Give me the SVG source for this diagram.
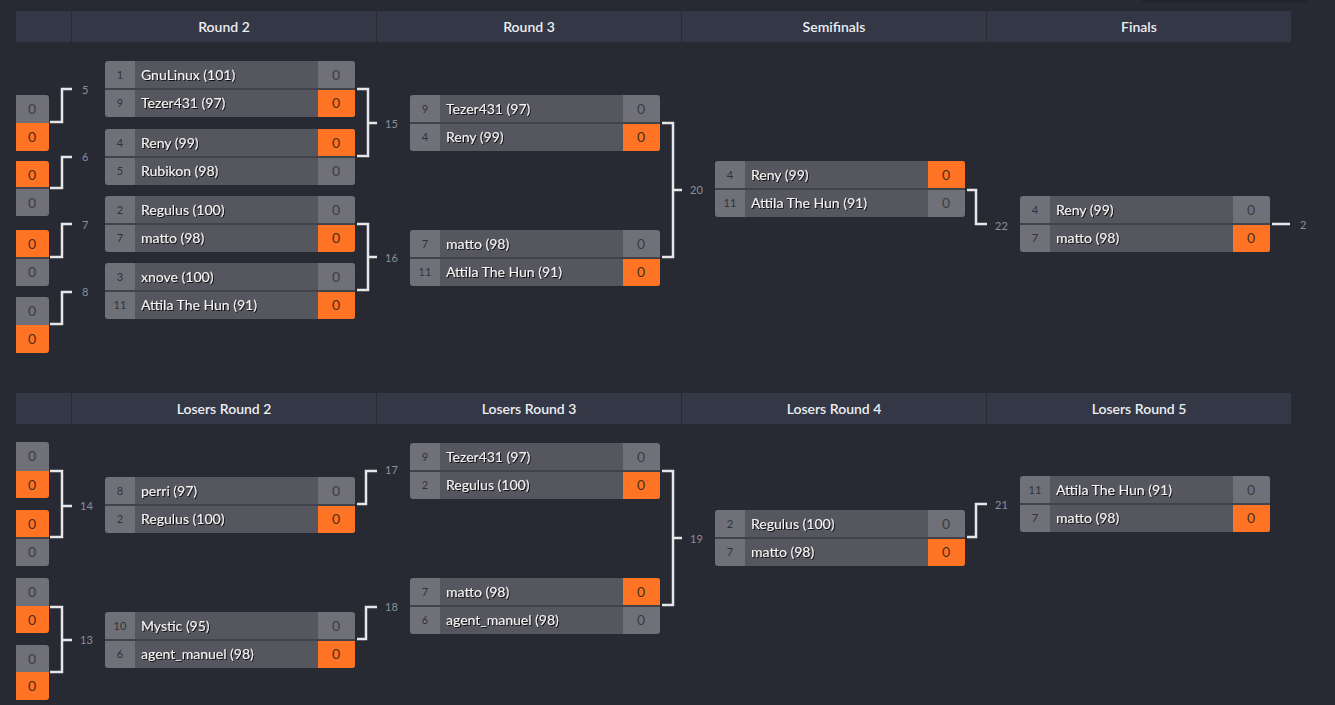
<svg xmlns="http://www.w3.org/2000/svg" width="1335" height="705" viewBox="0 0 1335 705">
<defs>
<style>
.bg{fill:#272a33}
.hd{fill:#343745}
.ht{font-family:Lato,"Noto Sans",sans-serif;font-size:14px;font-weight:600;fill:#eceef2;text-anchor:middle}
.box{fill:#707178}
.nm{fill:#56575e}
.or{fill:#ff7324}
.dv{stroke:#42434a;stroke-width:2}
.sd{font-family:Lato,"Noto Sans",sans-serif;font-size:11px;fill:#2f3139;text-anchor:middle}
.tn{font-family:Lato,"Noto Sans",sans-serif;font-size:14px;fill:#f3f3f3;filter:url(#sh)}
.sc{font-family:Lato,"Noto Sans",sans-serif;font-size:14px;fill:#3a3c44;text-anchor:middle}
.so{font-family:Lato,"Noto Sans",sans-serif;font-size:14px;fill:#4a2e1a;text-anchor:middle}
.cn{fill:none;stroke:#e6e6e8;stroke-width:2.5}
.lb{font-family:Lato,"Noto Sans",sans-serif;font-size:11px;fill:#8c8f99}
</style>
<filter id="sh" x="-10%" y="-30%" width="130%" height="160%">
<feDropShadow dx="1" dy="1" stdDeviation="0.6" flood-color="#000" flood-opacity="0.8"/>
</filter>
</defs>
<rect class="bg" x="0" y="0" width="1335" height="705"/>
<rect x="1142" y="0" width="166" height="3" fill="#22252c"/>

<g id="headers-winners">
<rect class="hd" x="16" y="11" width="55" height="31"/>
<rect class="hd" x="72" y="11" width="304" height="31"/>
<rect class="hd" x="377" y="11" width="304" height="31"/>
<rect class="hd" x="682" y="11" width="304" height="31"/>
<rect class="hd" x="987" y="11" width="304" height="31"/>
<text class="ht" x="224" y="32">Round 2</text>
<text class="ht" x="529" y="32">Round 3</text>
<text class="ht" x="834" y="32">Semifinals</text>
<text class="ht" x="1139" y="32">Finals</text>
</g>
<g id="headers-losers">
<rect class="hd" x="16" y="393" width="55" height="31"/>
<rect class="hd" x="72" y="393" width="304" height="31"/>
<rect class="hd" x="377" y="393" width="304" height="31"/>
<rect class="hd" x="682" y="393" width="304" height="31"/>
<rect class="hd" x="987" y="393" width="304" height="31"/>
<text class="ht" x="224" y="414">Losers Round 2</text>
<text class="ht" x="529" y="414">Losers Round 3</text>
<text class="ht" x="834" y="414">Losers Round 4</text>
<text class="ht" x="1139" y="414">Losers Round 5</text>
</g>

<g id="stubs">
<g id="stub-5">
<path class="box" d="M16 95 H46 Q49 95 49 98 V123 H16 Z"/>
<path class="or" d="M16 123 H49 V148 Q49 151 46 151 H16 Z"/>
<text class="sc" x="32" y="114">0</text><text class="so" x="32" y="142">0</text>
</g>
<g id="stub-6">
<path class="or" d="M16 161 H46 Q49 161 49 164 V188 H16 Z"/>
<path class="box" d="M16 188 H49 V213 Q49 216 46 216 H16 Z"/>
<line class="dv" x1="16" y1="188" x2="49" y2="188"/>
<text class="so" x="32" y="180">0</text><text class="sc" x="32" y="208">0</text>
</g>
<g id="stub-7">
<path class="or" d="M16 230 H46 Q49 230 49 233 V258 H16 Z"/>
<path class="box" d="M16 258 H49 V283 Q49 286 46 286 H16 Z"/>
<line class="dv" x1="16" y1="258" x2="49" y2="258"/>
<text class="so" x="32" y="249">0</text><text class="sc" x="32" y="277">0</text>
</g>
<g id="stub-8">
<path class="box" d="M16 297 H46 Q49 297 49 300 V325 H16 Z"/>
<path class="or" d="M16 325 H49 V350 Q49 353 46 353 H16 Z"/>
<text class="sc" x="32" y="316">0</text><text class="so" x="32" y="344">0</text>
</g>
<g id="stub-l1">
<path class="box" d="M16 442 H46 Q49 442 49 445 V471 H16 Z"/>
<path class="or" d="M16 471 H49 V495 Q49 498 46 498 H16 Z"/>
<text class="sc" x="32" y="461">0</text><text class="so" x="32" y="490">0</text>
</g>
<g id="stub-l2">
<path class="or" d="M16 510 H46 Q49 510 49 513 V538 H16 Z"/>
<path class="box" d="M16 538 H49 V563 Q49 566 46 566 H16 Z"/>
<line class="dv" x1="16" y1="538" x2="49" y2="538"/>
<text class="so" x="32" y="529">0</text><text class="sc" x="32" y="557">0</text>
</g>
<g id="stub-l3">
<path class="box" d="M16 578 H46 Q49 578 49 581 V606 H16 Z"/>
<path class="or" d="M16 606 H49 V630 Q49 633 46 633 H16 Z"/>
<text class="sc" x="32" y="597">0</text><text class="so" x="32" y="625">0</text>
</g>
<g id="stub-l4">
<path class="box" d="M16 645 H46 Q49 645 49 648 V672 H16 Z"/>
<path class="or" d="M16 672 H49 V697 Q49 700 46 700 H16 Z"/>
<text class="sc" x="32" y="664">0</text><text class="so" x="32" y="691">0</text>
</g>
</g>

<g id="connectors">
<path class="cn" d="M50 122 H62 V89 H72"/>
<path class="cn" d="M72 157 H62 V188 H50"/>
<path class="cn" d="M72 224 H62 V257 H50"/>
<path class="cn" d="M72 292 H62 V324 H50"/>
<path class="cn" d="M357 89 H368 V156 H357 M368 123 H377"/>
<path class="cn" d="M357 224 H368 V290 H357 M368 257 H377"/>
<path class="cn" d="M662 123 H673 V257 H662 M673 190 H682"/>
<path class="cn" d="M967 190 H976 V224 H987"/>
<path class="cn" d="M1272 224 H1290"/>
<path class="cn" d="M50 471 H62 V537 H50 M62 506 H72"/>
<path class="cn" d="M50 607 H62 V672 H50 M62 640 H72"/>
<path class="cn" d="M357 504 H366 V471 H377"/>
<path class="cn" d="M357 639 H366 V607 H377"/>
<path class="cn" d="M662 471 H673 V605 H662 M673 538 H682"/>
<path class="cn" d="M967 537 H976 V504 H987"/>
<text class="lb" x="82" y="94">5</text>
<text class="lb" x="82" y="161">6</text>
<text class="lb" x="82" y="229">7</text>
<text class="lb" x="82" y="296">8</text>
<text class="lb" x="385" y="128">15</text>
<text class="lb" x="385" y="262">16</text>
<text class="lb" x="690" y="194">20</text>
<text class="lb" x="995" y="230">22</text>
<text class="lb" x="1300" y="229">2</text>
<text class="lb" x="80" y="510">14</text>
<text class="lb" x="80" y="644">13</text>
<text class="lb" x="385" y="474">17</text>
<text class="lb" x="385" y="611">18</text>
<text class="lb" x="690" y="543">19</text>
<text class="lb" x="995" y="509">21</text>
</g>

<g id="match-1">
<rect class="box" x="105" y="61" width="250" height="56" rx="3"/>
<rect class="nm" x="135" y="61" width="183" height="56"/>
<path class="or" d="M318 89 H355 V114 Q355 117 352 117 H318 Z"/>
<line class="dv" x1="105" y1="89" x2="355" y2="89"/>
<text class="sd" x="120" y="79">1</text><text class="tn" x="141" y="80">GnuLinux (101)</text><text class="sc" x="336" y="80">0</text>
<text class="sd" x="120" y="107">9</text><text class="tn" x="141" y="108">Tezer431 (97)</text><text class="so" x="336" y="108">0</text>
</g>
<g id="match-2">
<rect class="box" x="105" y="129" width="250" height="56" rx="3"/>
<rect class="nm" x="135" y="129" width="183" height="56"/>
<path class="or" d="M318 129 H352 Q355 129 355 132 V157 H318 Z"/>
<line class="dv" x1="105" y1="157" x2="355" y2="157"/>
<text class="sd" x="120" y="147">4</text><text class="tn" x="141" y="148">Reny (99)</text><text class="so" x="336" y="148">0</text>
<text class="sd" x="120" y="175">5</text><text class="tn" x="141" y="176">Rubikon (98)</text><text class="sc" x="336" y="176">0</text>
</g>
<g id="match-3">
<rect class="box" x="105" y="196" width="250" height="56" rx="3"/>
<rect class="nm" x="135" y="196" width="183" height="56"/>
<path class="or" d="M318 224 H355 V249 Q355 252 352 252 H318 Z"/>
<line class="dv" x1="105" y1="224" x2="355" y2="224"/>
<text class="sd" x="120" y="214">2</text><text class="tn" x="141" y="215">Regulus (100)</text><text class="sc" x="336" y="215">0</text>
<text class="sd" x="120" y="242">7</text><text class="tn" x="141" y="243">matto (98)</text><text class="so" x="336" y="243">0</text>
</g>
<g id="match-4">
<rect class="box" x="105" y="263" width="250" height="56" rx="3"/>
<rect class="nm" x="135" y="263" width="183" height="56"/>
<path class="or" d="M318 291 H355 V316 Q355 319 352 319 H318 Z"/>
<line class="dv" x1="105" y1="291" x2="355" y2="291"/>
<text class="sd" x="120" y="281">3</text><text class="tn" x="141" y="282">xnove (100)</text><text class="sc" x="336" y="282">0</text>
<text class="sd" x="120" y="309">11</text><text class="tn" x="141" y="310">Attila The Hun (91)</text><text class="so" x="336" y="310">0</text>
</g>
<g id="match-15">
<rect class="box" x="410" y="95" width="250" height="56" rx="3"/>
<rect class="nm" x="440" y="95" width="183" height="56"/>
<path class="or" d="M623 123 H660 V148 Q660 151 657 151 H623 Z"/>
<line class="dv" x1="410" y1="123" x2="660" y2="123"/>
<text class="sd" x="425" y="113">9</text><text class="tn" x="446" y="114">Tezer431 (97)</text><text class="sc" x="641" y="114">0</text>
<text class="sd" x="425" y="141">4</text><text class="tn" x="446" y="142">Reny (99)</text><text class="so" x="641" y="142">0</text>
</g>
<g id="match-16">
<rect class="box" x="410" y="230" width="250" height="56" rx="3"/>
<rect class="nm" x="440" y="230" width="183" height="56"/>
<path class="or" d="M623 258 H660 V283 Q660 286 657 286 H623 Z"/>
<line class="dv" x1="410" y1="258" x2="660" y2="258"/>
<text class="sd" x="425" y="248">7</text><text class="tn" x="446" y="249">matto (98)</text><text class="sc" x="641" y="249">0</text>
<text class="sd" x="425" y="276">11</text><text class="tn" x="446" y="277">Attila The Hun (91)</text><text class="so" x="641" y="277">0</text>
</g>
<g id="match-20">
<rect class="box" x="715" y="161" width="250" height="56" rx="3"/>
<rect class="nm" x="745" y="161" width="183" height="56"/>
<path class="or" d="M928 161 H962 Q965 161 965 164 V189 H928 Z"/>
<line class="dv" x1="715" y1="189" x2="965" y2="189"/>
<text class="sd" x="730" y="179">4</text><text class="tn" x="751" y="180">Reny (99)</text><text class="so" x="946" y="180">0</text>
<text class="sd" x="730" y="207">11</text><text class="tn" x="751" y="208">Attila The Hun (91)</text><text class="sc" x="946" y="208">0</text>
</g>
<g id="match-22">
<rect class="box" x="1020" y="196" width="250" height="56" rx="3"/>
<rect class="nm" x="1050" y="196" width="183" height="56"/>
<path class="or" d="M1233 224 H1270 V249 Q1270 252 1267 252 H1233 Z"/>
<line class="dv" x1="1020" y1="224" x2="1270" y2="224"/>
<text class="sd" x="1035" y="214">4</text><text class="tn" x="1056" y="215">Reny (99)</text><text class="sc" x="1251" y="215">0</text>
<text class="sd" x="1035" y="242">7</text><text class="tn" x="1056" y="243">matto (98)</text><text class="so" x="1251" y="243">0</text>
</g>

<g id="match-14">
<rect class="box" x="105" y="477" width="250" height="56" rx="3"/>
<rect class="nm" x="135" y="477" width="183" height="56"/>
<path class="or" d="M318 505 H355 V530 Q355 533 352 533 H318 Z"/>
<line class="dv" x1="105" y1="505" x2="355" y2="505"/>
<text class="sd" x="120" y="495">8</text><text class="tn" x="141" y="496">perri (97)</text><text class="sc" x="336" y="496">0</text>
<text class="sd" x="120" y="523">2</text><text class="tn" x="141" y="524">Regulus (100)</text><text class="so" x="336" y="524">0</text>
</g>
<g id="match-13">
<rect class="box" x="105" y="612" width="250" height="56" rx="3"/>
<rect class="nm" x="135" y="612" width="183" height="56"/>
<path class="or" d="M318 640 H355 V665 Q355 668 352 668 H318 Z"/>
<line class="dv" x1="105" y1="640" x2="355" y2="640"/>
<text class="sd" x="120" y="630">10</text><text class="tn" x="141" y="631">Mystic (95)</text><text class="sc" x="336" y="631">0</text>
<text class="sd" x="120" y="658">6</text><text class="tn" x="141" y="659">agent_manuel (98)</text><text class="so" x="336" y="659">0</text>
</g>
<g id="match-17">
<rect class="box" x="410" y="443" width="250" height="56" rx="3"/>
<rect class="nm" x="440" y="443" width="183" height="56"/>
<path class="or" d="M623 471 H660 V496 Q660 499 657 499 H623 Z"/>
<line class="dv" x1="410" y1="471" x2="660" y2="471"/>
<text class="sd" x="425" y="461">9</text><text class="tn" x="446" y="462">Tezer431 (97)</text><text class="sc" x="641" y="462">0</text>
<text class="sd" x="425" y="489">2</text><text class="tn" x="446" y="490">Regulus (100)</text><text class="so" x="641" y="490">0</text>
</g>
<g id="match-18">
<rect class="box" x="410" y="578" width="250" height="56" rx="3"/>
<rect class="nm" x="440" y="578" width="183" height="56"/>
<path class="or" d="M623 578 H657 Q660 578 660 581 V606 H623 Z"/>
<line class="dv" x1="410" y1="606" x2="660" y2="606"/>
<text class="sd" x="425" y="596">7</text><text class="tn" x="446" y="597">matto (98)</text><text class="so" x="641" y="597">0</text>
<text class="sd" x="425" y="624">6</text><text class="tn" x="446" y="625">agent_manuel (98)</text><text class="sc" x="641" y="625">0</text>
</g>
<g id="match-19">
<rect class="box" x="715" y="510" width="250" height="56" rx="3"/>
<rect class="nm" x="745" y="510" width="183" height="56"/>
<path class="or" d="M928 538 H965 V563 Q965 566 962 566 H928 Z"/>
<line class="dv" x1="715" y1="538" x2="965" y2="538"/>
<text class="sd" x="730" y="528">2</text><text class="tn" x="751" y="529">Regulus (100)</text><text class="sc" x="946" y="529">0</text>
<text class="sd" x="730" y="556">7</text><text class="tn" x="751" y="557">matto (98)</text><text class="so" x="946" y="557">0</text>
</g>
<g id="match-21">
<rect class="box" x="1020" y="476" width="250" height="56" rx="3"/>
<rect class="nm" x="1050" y="476" width="183" height="56"/>
<path class="or" d="M1233 504 H1270 V529 Q1270 532 1267 532 H1233 Z"/>
<line class="dv" x1="1020" y1="504" x2="1270" y2="504"/>
<text class="sd" x="1035" y="494">11</text><text class="tn" x="1056" y="495">Attila The Hun (91)</text><text class="sc" x="1251" y="495">0</text>
<text class="sd" x="1035" y="522">7</text><text class="tn" x="1056" y="523">matto (98)</text><text class="so" x="1251" y="523">0</text>
</g>
</svg>
